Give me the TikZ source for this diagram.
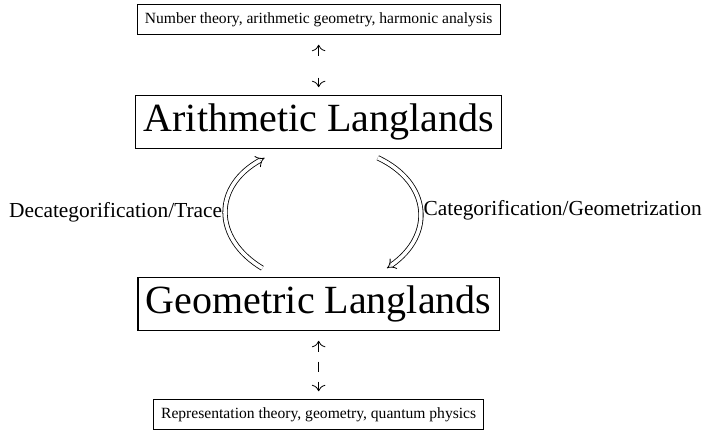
\documentclass[tikz,border=0pt]{standalone}
\usepackage{fontspec}
\setmainfont{Liberation Serif}
\usetikzlibrary{arrows.meta, positioning, calc}

\begin{document}
\begin{tikzpicture}[
  every node/.style={text=black},
  fieldbox/.style={draw, line width=0.5pt, inner sep=3.8pt,
    font=\fontsize{7.8}{9.5}\selectfont},
  langbox/.style={draw, line width=0.6pt, inner sep=4pt,
    font=\fontsize{20}{24}\selectfont},
  bridge/.style={double, double distance=1.8pt, line width=0.4pt,
    -{Implies}, bend left=60, looseness=1.35},
  link/.style={{To[scale=1.3]}-{To[scale=1.3]}, dash pattern=on 5pt off 5pt},
  tag/.style={font=\fontsize{10.7}{13}\selectfont, inner sep=1.5pt},
]

% Frame
\useasboundingbox (0,0) rectangle (12.372,-7.609);

% Langlands boxes
\node[langbox] (arith) at (5.6,-2.144) {Arithmetic Langlands};
\node[langbox] (geo) at (5.6,-5.342) {Geometric Langlands};

% Fields above and below
\node[fieldbox] (nt) at (5.6,-0.343) {Number theory, arithmetic geometry, harmonic analysis};
\node[fieldbox] (rt) at (5.6,-7.284) {Representation theory, geometry, quantum physics};

% Links to the fields
\draw[link, dash pattern=on 5pt off 11pt, shorten <=5pt, shorten >=4pt] (nt) -- (arith);
\draw[link, shorten <=5pt, shorten >=4pt] (geo) -- (rt);

% Trace and categorification
\draw[bridge] ([xshift=-0.99cm,yshift=4.5pt]geo.north)
  to node[tag, left] {Decategorification/Trace}
  ([xshift=-0.95cm,yshift=-4.5pt]arith.south);
\draw[bridge] ([xshift=1.04cm,yshift=-4.5pt]arith.south)
  to node[tag, right] {Categorification/Geometrization}
  ([xshift=1.2cm,yshift=4.5pt]geo.north);

\end{tikzpicture}
\end{document}
